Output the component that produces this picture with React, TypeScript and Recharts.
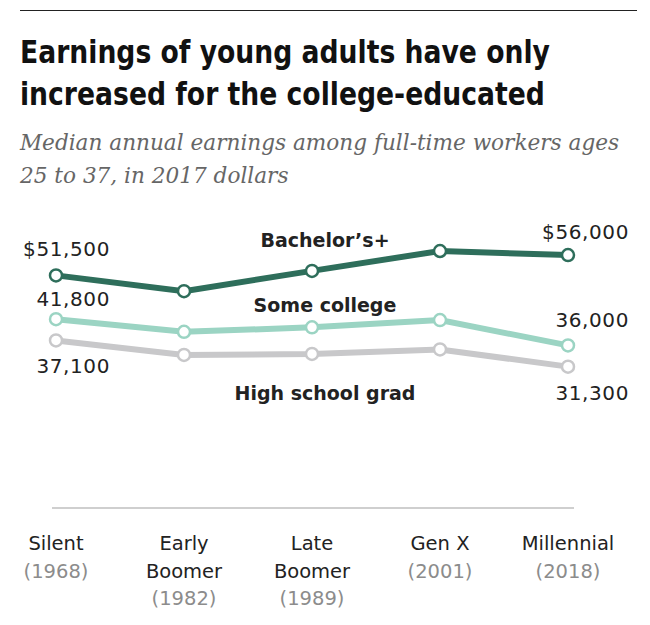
import React from "react"
import { LabelList, Line, LineChart, XAxis, YAxis } from "recharts"

const generations = ["Silent", "Early\nBoomer", "Late\nBoomer", "Gen X", "Millennial"]
const surveyYears = ["1968", "1982", "1989", "2001", "2018"]
const bachelors = [51500, 48000, 52500, 56900, 56000]
const someCollege = [41800, 39000, 40000, 41600, 36000]
const highSchool = [37100, 33900, 34100, 35100, 31300]

const rows = generations.map((g, i) => ({
  gen: g,
  year: surveyYears[i],
  bachelors: bachelors[i],
  someCollege: someCollege[i],
  highSchool: highSchool[i],
}))

const SANS = "'DejaVu Sans', sans-serif"
const INK = "#222"

const series = [
  { key: "bachelors", name: "Bachelor\u2019s+", color: "#2e6e5b", first: "$", nameDy: -31, leftDy: -26, rightDy: -23 },
  { key: "someCollege", name: "Some college", color: "#9bd4c3", first: "", nameDy: -22, leftDy: -20, rightDy: -25 },
  { key: "highSchool", name: "High school grad", color: "#c8c8ca", first: "", nameDy: 39, leftDy: 26, rightDy: 26 },
]

const fmt = (v: number) => v.toLocaleString("en-US")

function makeLabel(s: (typeof series)[number]) {
  return (props: any) => {
    const { x, y, value, index } = props
    if (index === 0 || index === 4) {
      return (
        <text x={x + (index === 0 ? 54 : 61)} y={y + (index === 0 ? s.leftDy : s.rightDy)} textAnchor="end"
          dominantBaseline="central" fontFamily={SANS} fontSize={20} letterSpacing={0.6} fill={INK}>
          {s.first + fmt(value)}
        </text>
      )
    }
    if (index === 2) {
      return (
        <text x={x + 13} y={y + s.nameDy} textAnchor="middle" dominantBaseline="central"
          fontFamily={SANS} fontSize={19} fontWeight="bold" fill={INK}>
          {s.name}
        </text>
      )
    }
    return null
  }
}

function GenTick(props: any) {
  const { x, y, payload, index } = props
  const lines = String(payload.value).split("\n")
  return (
    <text x={x} y={y} textAnchor="middle" fontFamily={SANS} fontSize={19.5}>
      {lines.map((l, i) => (
        <tspan key={i} x={x} dy={i === 0 ? 42 : 27.5} fill={INK}>{l}</tspan>
      ))}
      <tspan x={x} dy={27.5} fill="#8c8c8c">({surveyYears[index]})</tspan>
    </text>
  )
}

export default function App() {
  return (
    <div style={{ position: "absolute", left: 0, top: 0, width: 650, height: 625, background: "#fff", overflow: "hidden" }}>
      <div style={{ position: "absolute", left: 20, top: 10, width: 617, height: 1, background: "#222" }} />
      <div style={{
        position: "absolute", left: 20, top: 31, fontFamily: "'DejaVu Sans Condensed', 'DejaVu Sans', sans-serif",
        fontWeight: "bold", fontSize: 32, lineHeight: "42px", color: "#111", whiteSpace: "nowrap",
        transform: "scaleX(0.925)", transformOrigin: "left top",
      }}>
        Earnings of young adults have only<br />increased for the college-educated
      </div>
      <div style={{
        position: "absolute", left: 20, top: 126, fontFamily: "'DejaVu Serif', serif", fontStyle: "italic",
        fontSize: 21.6, lineHeight: "33px", color: "#666", whiteSpace: "nowrap",
      }}>
        Median annual earnings among full-time workers ages<br />25 to 37, in 2017 dollars
      </div>
      <div style={{ position: "absolute", left: 0, top: 0 }}>
        <LineChart width={650} height={625} data={rows} margin={{ top: 237, right: 76, bottom: 0, left: 52 }}>
          <XAxis dataKey="gen" height={117} interval={0} tickLine={false} tickSize={0} tickMargin={0}
            axisLine={{ stroke: "#cfcfcf", strokeWidth: 2 }} padding={{ left: 4, right: 6 }} tick={<GenTick />} />
          <YAxis hide domain={[0, 60000]} />
          {series.map((s) => (
            <Line key={s.key} dataKey={s.key} stroke={s.color} strokeWidth={6} isAnimationActive={false}
              dot={{ r: 6, fill: "#fff", stroke: s.color, strokeWidth: 2.5 }} activeDot={false}>
              <LabelList dataKey={s.key} content={makeLabel(s)} />
            </Line>
          ))}
        </LineChart>
      </div>
    </div>
  )
}
